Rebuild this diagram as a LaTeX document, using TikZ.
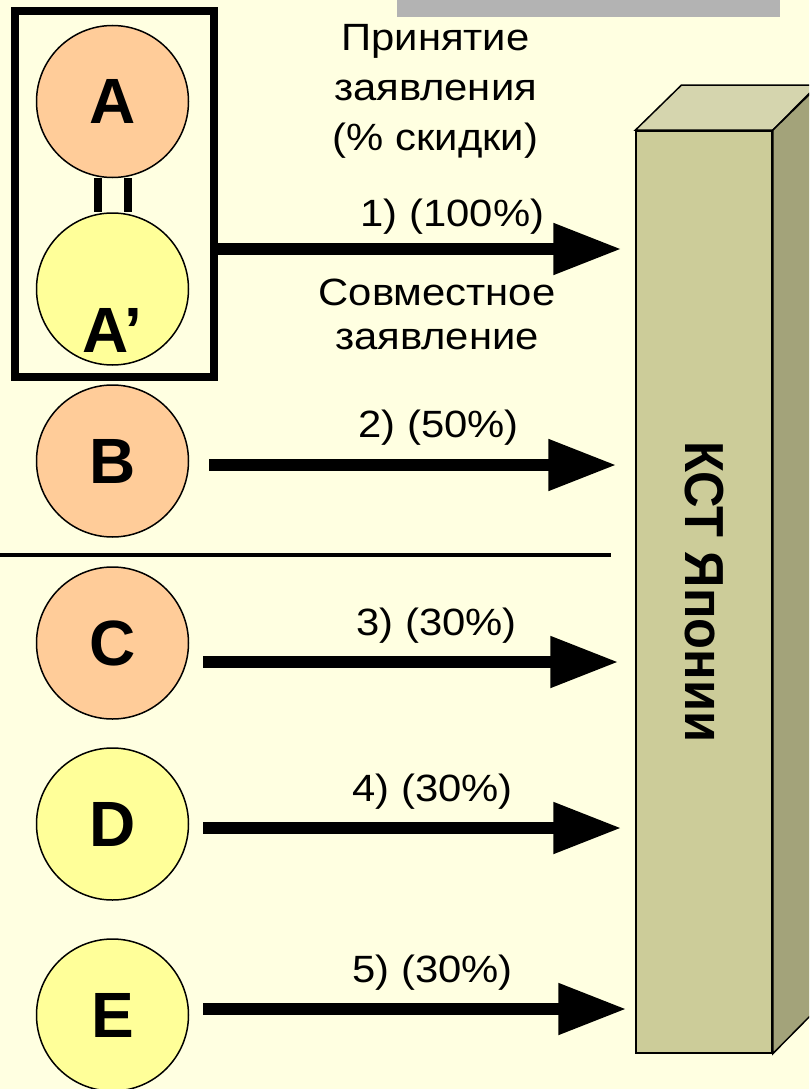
\documentclass[tikz,border=0pt]{standalone}
\usepackage{fontspec}
\setmainfont{Liberation Sans}
\newfontfamily\lblfont[FakeStretch=1.1]{Liberation Sans}
\newfontfamily\kstfont[FakeStretch=0.92]{Liberation Sans}
\usetikzlibrary{arrows.meta,positioning}
\definecolor{bgyellow}{HTML}{FFFFE1}
\definecolor{orng}{HTML}{FFCC99}
\definecolor{ylw}{HTML}{FFFF99}
\definecolor{kstfront}{HTML}{CCCC99}
\definecolor{ksttop}{HTML}{D5D5AE}
\definecolor{kstside}{HTML}{A3A37A}
\definecolor{bargray}{HTML}{B3B3B3}

\begin{document}
\begin{tikzpicture}[x=1pt,y=-1pt,
  letter/.style={inner sep=0pt,font=\fontsize{64}{64}\selectfont\bfseries},
  party/.style={circle,draw,line width=1.5pt,minimum size=152pt,letter},
  lbl/.style={inner sep=0pt,font=\lblfont\fontsize{38}{50}\selectfont},
  arr/.style={line width=11.5pt,-{Triangle[length=68pt,width=49pt]},shorten <=14pt,shorten >=14pt}]
\useasboundingbox (0,0) rectangle (809,1089);
\clip (0,0) rectangle (809,1089);
\fill[bgyellow] (0,0) rectangle (809,1089);
\fill[bargray] (397,0) rectangle (780,17);

% KST box
\node[draw,line width=1.5pt,fill=kstfront,minimum width=136pt,minimum height=922pt] (kst) at (704,592) {};
\filldraw[fill=ksttop,line width=1.5pt] (kst.north west) -- ++(46,-45) -- ++(136,0) -- (kst.north east) -- cycle;
\filldraw[fill=kstside,line width=1.5pt] (kst.north east) -- ++(46,-45) -- ++(0,922) -- (kst.south east) -- cycle;
\node[rotate=-90,inner sep=0pt,font=\kstfont\fontsize{55}{55}\selectfont\bfseries] (kstlbl) at (kst.center) {КСТ Японии};

% A and A'
\node[draw,line width=8pt,minimum width=199pt,minimum height=366pt] (grp) at (114.5,194) {};
\node[party,fill=orng] (A) at (112.5,101.5) {A};
\node[party,fill=ylw] (Ap) at (112.5,289) {};
\node[letter,anchor=base] (Apl) at ([yshift=-63pt]Ap.center) {A’};
\draw[line width=8pt] ([xshift=-15pt]A.south) -- ([xshift=-15pt]Ap.north);
\draw[line width=8pt] ([xshift=15pt]A.south) -- ([xshift=15pt]Ap.north);

\node[party,fill=orng] (B) at (112.5,461) {B};
\node[party,fill=orng] (C) at (112.5,643) {C};
\node[party,fill=ylw] (D) at (112.5,824) {D};
\node[party,fill=ylw] (E) at (112.5,1015) {E};

\draw[line width=4pt] (0,555) -- (611,555);

% arrows
\draw[arr,shorten <=0pt] ([yshift=-55pt]grp.east) -- ([yshift=-55pt]grp.east -| kst.west);
\draw[arr,shorten <=20pt,shorten >=19pt] ([yshift=-4pt]B.east) -- ([yshift=-4pt]B.east -| kst.west);
\draw[arr,shorten >=17pt] ([yshift=-19pt]C.east) -- ([yshift=-19pt]C.east -| kst.west);
\draw[arr] ([yshift=-4pt]D.east) -- ([yshift=-4pt]D.east -| kst.west);
\draw[arr,shorten >=9pt] ([yshift=6pt]E.east) -- ([yshift=6pt]E.east -| kst.west);

\node[lbl,align=center,anchor=base] (hdr) at (435.5,150) {Принятие\\заявления\\(\% скидки)};
\node[lbl,anchor=base] (r1) at (452.5,226) {1) (100\%)};
\node[lbl,align=center,anchor=base,font=\lblfont\fontsize{38}{44}\selectfont] (joint) at (437,349) {Совместное\\заявление};
\node[lbl,anchor=base] (r2) at (438.5,437) {2) (50\%)};
\node[lbl,anchor=base] (r3) at (436.5,635) {3) (30\%)};
\node[lbl,anchor=base] (r4) at (432.5,801) {4) (30\%)};
\node[lbl,anchor=base] (r5) at (432.5,982) {5) (30\%)};
\end{tikzpicture}
\end{document}
